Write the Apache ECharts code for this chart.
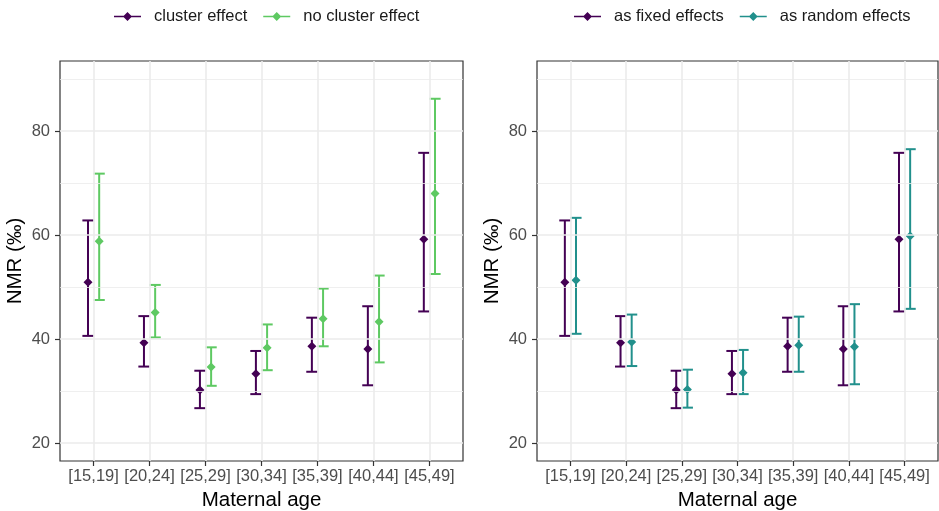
<!DOCTYPE html>
<html>
<head>
<meta charset="utf-8">
<script src="https://cdn.jsdelivr.net/npm/echarts@6/dist/echarts.min.js"></script>
<style>
  html, body { margin: 0; padding: 0; background: #fff; }
  #main { width: 939px; height: 511px; }
</style>
</head>
<body>
<div id="main"></div>
<script>
// age groups on the x axis
var ageGroups = ['[15,19]', '[20,24]', '[25,29]', '[30,34]', '[35,39]', '[40,44]', '[45,49]'];

// left panel: cluster effect vs no cluster effect
var clusterMean = [50.9, 39.3, 30.2, 33.3, 38.6, 38.1, 59.2];
var clusterLow  = [40.6, 34.7, 26.7, 29.4, 33.7, 31.1, 45.3];
var clusterHigh = [62.8, 44.4, 33.9, 37.7, 44.1, 46.3, 75.8];

var noClusterMean = [58.8, 45.1, 34.6, 38.3, 43.9, 43.3, 68.0];
var noClusterLow  = [47.5, 40.3, 31.0, 34.0, 38.6, 35.5, 52.5];
var noClusterHigh = [71.8, 50.4, 38.4, 42.8, 49.7, 52.2, 86.2];

// right panel: as fixed effects vs as random effects
var fixedMean = [50.9, 39.3, 30.2, 33.3, 38.6, 38.1, 59.2];
var fixedLow  = [40.6, 34.7, 26.7, 29.4, 33.7, 31.1, 45.3];
var fixedHigh = [62.8, 44.4, 33.9, 37.7, 44.1, 46.3, 75.8];

var randomMean = [51.3, 39.4, 30.3, 33.5, 38.8, 38.5, 59.8];
var randomLow  = [41.0, 34.8, 26.8, 29.4, 33.7, 31.3, 45.8];
var randomHigh = [63.3, 44.7, 34.1, 37.9, 44.3, 46.7, 76.5];

// axis ticks / grid lines
var yMajor = [20, 40, 60, 80];
var yMinor = [30, 50, 70, 90];
var xTicks = [1, 2, 3, 4, 5, 6, 7];

var PURPLE = '#440154', GREEN = '#5ec962', TEAL = '#21908c';
var FONT = 'Liberation Sans';
var DODGE = 0.1, CAP = 0.2;

var legendIcon = 'path://M0,4.2L27,4.2L27,5.8L0,5.8Z M13.5,0.5L18,5L13.5,9.5L9,5Z';

function errorBar(params, api) {
  var x = api.value(0), lo = api.value(1), hi = api.value(2);
  var top = api.coord([x, hi]), bot = api.coord([x, lo]);
  var hw = api.size([CAP, 0])[0] / 2;
  var st = { stroke: api.visual('color'), lineWidth: 2 };
  return {
    type: 'group',
    children: [
      { type: 'line', shape: { x1: top[0], y1: top[1], x2: bot[0], y2: bot[1] }, style: st },
      { type: 'line', shape: { x1: top[0] - hw, y1: top[1], x2: top[0] + hw, y2: top[1] }, style: st },
      { type: 'line', shape: { x1: bot[0] - hw, y1: bot[1], x2: bot[0] + hw, y2: bot[1] }, style: st }
    ]
  };
}

function barData(lo, hi, shift) {
  return ageGroups.map(function (c, i) { return [i + 1 + shift, lo[i], hi[i]]; });
}
function pointData(mean, shift) {
  return ageGroups.map(function (c, i) { return [i + 1 + shift, mean[i]]; });
}

function panelSeries(gi, name, color, mean, lo, hi, shift) {
  return [
    {
      name: name, type: 'custom', xAxisIndex: gi, yAxisIndex: gi,
      itemStyle: { color: color }, renderItem: errorBar,
      encode: { x: 0, y: [1, 2] }, data: barData(lo, hi, shift), z: 3
    },
    {
      name: name, type: 'scatter', xAxisIndex: gi, yAxisIndex: gi,
      symbol: 'diamond', symbolSize: 9, itemStyle: { color: color, opacity: 1 },
      data: pointData(mean, shift), z: 4
    }
  ];
}

function gridLines(gi) {
  var lines = [];
  yMinor.forEach(function (v) { lines.push({ yAxis: v, lineStyle: { color: '#ebebeb', width: 0.8, type: 'solid' } }); });
  yMajor.forEach(function (v) { lines.push({ yAxis: v, lineStyle: { color: '#ebebeb', width: 1.6, type: 'solid' } }); });
  xTicks.forEach(function (v) { lines.push({ xAxis: v, lineStyle: { color: '#ebebeb', width: 1.6, type: 'solid' } }); });
  return {
    type: 'scatter', xAxisIndex: gi, yAxisIndex: gi, data: [], silent: true, z: 1,
    markLine: { silent: true, symbol: 'none', label: { show: false }, animation: false, data: lines }
  };
}

function xAxisFor(gi) {
  return {
    type: 'value', gridIndex: gi, min: 0.4, max: 7.6,
    name: 'Maternal age', nameLocation: 'middle', nameGap: 28,
    nameTextStyle: { fontFamily: FONT, fontSize: 20.5, color: '#000' },
    axisLine: { show: false },
    axisTick: { show: true, length: 5, customValues: xTicks, lineStyle: { color: '#333', width: 1.2 } },
    axisLabel: {
      customValues: xTicks, margin: 7, fontFamily: FONT, fontSize: 16.5, color: '#4d4d4d',
      formatter: function (v) { return ageGroups[Math.round(v) - 1]; }
    },
    splitLine: { show: false }
  };
}

function yAxisFor(gi) {
  return {
    type: 'value', gridIndex: gi, min: 16.54, max: 93.46,
    name: 'NMR (‰)', nameLocation: 'middle', nameGap: 34, nameRotate: 90,
    nameTextStyle: { fontFamily: FONT, fontSize: 20.5, color: '#000' },
    axisLine: { show: false },
    axisTick: { show: true, length: 5, customValues: yMajor, lineStyle: { color: '#333', width: 1.2 } },
    axisLabel: { customValues: yMajor, margin: 10, fontFamily: FONT, fontSize: 16.5, color: '#4d4d4d' },
    splitLine: { show: false }
  };
}

var series = []
  .concat([gridLines(0), gridLines(1)])
  .concat(panelSeries(0, 'cluster effect', PURPLE, clusterMean, clusterLow, clusterHigh, -DODGE))
  .concat(panelSeries(0, 'no cluster effect', GREEN, noClusterMean, noClusterLow, noClusterHigh, DODGE))
  .concat(panelSeries(1, 'as fixed effects', PURPLE, fixedMean, fixedLow, fixedHigh, -DODGE))
  .concat(panelSeries(1, 'as random effects', TEAL, randomMean, randomLow, randomHigh, DODGE));

var legendText = { fontFamily: FONT, fontSize: 16.5, color: '#1a1a1a', padding: [0, 0, 0, 8] };

var chart = echarts.init(document.getElementById('main'));
chart.setOption({
  animation: false,
  backgroundColor: '#fff',
  textStyle: { fontFamily: FONT },
  legend: [
    {
      data: ['cluster effect', 'no cluster effect'], left: 109, top: 3,
      icon: legendIcon, itemWidth: 27, itemHeight: 10, itemGap: 16, textStyle: legendText
    },
    {
      data: ['as fixed effects', 'as random effects'], left: 569, top: 3,
      icon: legendIcon, itemWidth: 27, itemHeight: 10, itemGap: 16, textStyle: legendText
    }
  ],
  grid: [
    { left: 60, top: 61, width: 403, height: 400, outerBoundsMode: 'none', containLabel: false,
      show: true, borderColor: '#333', borderWidth: 1.2, backgroundColor: '#fff' },
    { left: 537, top: 61, width: 401, height: 400, outerBoundsMode: 'none', containLabel: false,
      show: true, borderColor: '#333', borderWidth: 1.2, backgroundColor: '#fff' }
  ],
  xAxis: [xAxisFor(0), xAxisFor(1)],
  yAxis: [yAxisFor(0), yAxisFor(1)],
  series: series
});
</script>
</body>
</html>
